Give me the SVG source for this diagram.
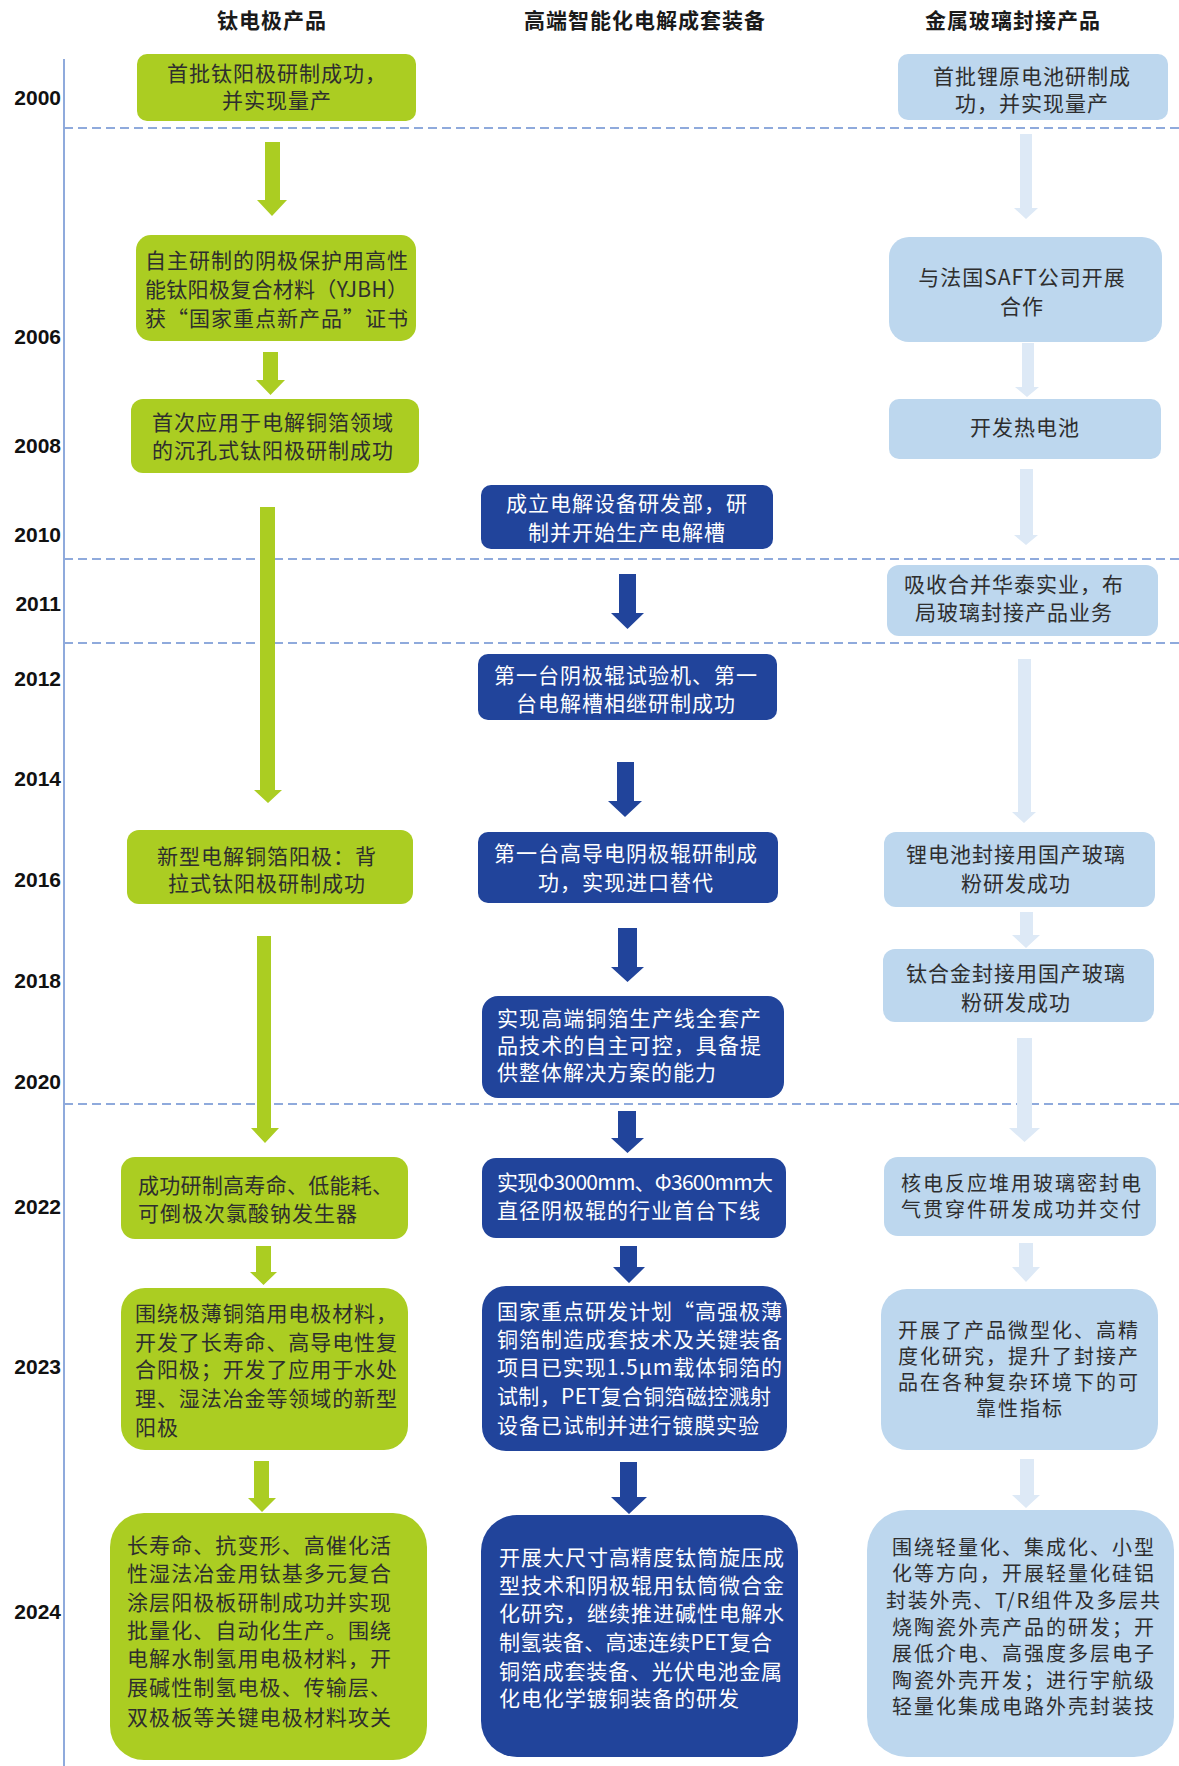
<svg xmlns="http://www.w3.org/2000/svg" width="1179" height="1766" viewBox="0 0 1179 1766">
<style>
  .bg{fill:#ffffff}
  .axis{stroke:#8faadc;stroke-width:2;fill:none}
  .dash{stroke:#8faadc;stroke-width:2;stroke-dasharray:9 5;fill:none}
  .hd{font-family:"Noto Sans CJK SC","Noto Sans CJK JP",sans-serif;font-weight:bold;font-size:21px;letter-spacing:1px;text-anchor:middle;fill:#1a1a1a}
  .yr{font-family:"Liberation Sans",Arial,sans-serif;font-weight:bold;font-size:21px;text-anchor:end;fill:#111}
  .g{fill:#abcd22}
  .b{fill:#21449b}
  .l{fill:#bdd7ee}
  .ga{fill:#abcd22}
  .ba{fill:#21449b}
  .la{fill:#dde9f6}
  .t{font-family:"Noto Sans CJK SC","Noto Sans CJK JP",sans-serif;font-size:21px;letter-spacing:1px}
  .s{font-size:20px;letter-spacing:2px}
  .dk{fill:#2e2e2e}
  .wt{fill:#ffffff}
  .c{text-anchor:middle}
</style>

<rect class="bg" x="0" y="0" width="1179" height="1766"/>

<!-- timeline axis and period separators -->
<g id="grid">
  <line class="axis" x1="64" y1="59" x2="64" y2="1766"/>
  <line class="dash" x1="64" y1="128" x2="1179" y2="128"/>
  <line class="dash" x1="64" y1="559" x2="1179" y2="559"/>
  <line class="dash" x1="64" y1="643" x2="1179" y2="643"/>
  <line class="dash" x1="64" y1="1104" x2="1179" y2="1104"/>
</g>

<!-- column titles -->
<g id="headers">
  <text class="hd" x="272" y="28">钛电极产品</text>
  <text class="hd" x="645" y="28">高端智能化电解成套装备</text>
  <text class="hd" x="1013" y="28">金属玻璃封接产品</text>
</g>

<!-- year labels -->
<g id="years">
  <text class="yr" x="61" y="105">2000</text>
  <text class="yr" x="61" y="344">2006</text>
  <text class="yr" x="61" y="453">2008</text>
  <text class="yr" x="61" y="542">2010</text>
  <text class="yr" x="61" y="611">2011</text>
  <text class="yr" x="61" y="686">2012</text>
  <text class="yr" x="61" y="786">2014</text>
  <text class="yr" x="61" y="887">2016</text>
  <text class="yr" x="61" y="988">2018</text>
  <text class="yr" x="61" y="1089">2020</text>
  <text class="yr" x="61" y="1214">2022</text>
  <text class="yr" x="61" y="1374">2023</text>
  <text class="yr" x="61" y="1619">2024</text>
</g>

<!-- block arrows between milestones -->
<g id="connectors">
  <!-- titanium electrode column -->
  <polygon class="ga" points="265,142 280,142 280,200 287,200 272,216 257,200 265,200"/>
  <polygon class="ga" points="263,352 278,352 278,380 285,380 270.5,395 256,380 263,380"/>
  <polygon class="ga" points="260,507 275,507 275,790 282,790 268,803 254,790 260,790"/>
  <polygon class="ga" points="257,936 271,936 271,1128 279,1128 265,1143 251,1128 257,1128"/>
  <polygon class="ga" points="256,1246 271,1246 271,1272 277,1272 263.5,1285 250,1272 256,1272"/>
  <polygon class="ga" points="254,1461 269,1461 269,1498 276,1498 262,1512 248,1498 254,1498"/>
  <!-- electrolysis equipment column -->
  <polygon class="ba" points="619,574 636,574 636,613 644,613 627.5,629 611,613 619,613"/>
  <polygon class="ba" points="617,762 634,762 634,801 642,801 625,817 608,801 617,801"/>
  <polygon class="ba" points="618,928 637,928 637,967 644,967 627.5,982 611,967 618,967"/>
  <polygon class="ba" points="618,1111 636,1111 636,1138 644,1138 627.5,1153 611,1138 618,1138"/>
  <polygon class="ba" points="620,1246 637,1246 637,1267 645,1267 629,1283 613,1267 620,1267"/>
  <polygon class="ba" points="620,1462 637,1462 637,1497 647,1497 629,1514 611,1497 620,1497"/>
  <!-- glass-to-metal sealing column -->
  <polygon class="la" points="1020,134 1032,134 1032,208 1038,208 1026,219 1014,208 1020,208"/>
  <polygon class="la" points="1022,343 1034,343 1034,387 1039,387 1027,397 1015,387 1022,387"/>
  <polygon class="la" points="1020,469 1033,469 1033,535 1038,535 1026,545 1014,535 1020,535"/>
  <polygon class="la" points="1018,659 1031,659 1031,812 1036,812 1024,823 1012,812 1018,812"/>
  <polygon class="la" points="1020,912 1033,912 1033,935 1040,935 1026,948 1012,935 1020,935"/>
  <polygon class="la" points="1017,1038 1032,1038 1032,1128 1040,1128 1024.5,1142 1009,1128 1017,1128"/>
  <polygon class="la" points="1019,1243 1033,1243 1033,1267 1040,1267 1026,1282 1012,1267 1019,1267"/>
  <polygon class="la" points="1020,1459 1034,1459 1034,1495 1040,1495 1026,1508 1012,1495 1020,1495"/>
</g>

<!-- titanium electrode products -->
<g id="ti-2000">
  <rect class="g" x="137" y="54" width="279" height="67" rx="10"/>
  <text class="t dk c" x="277" y="81">首批钛阳极研制成功，</text>
  <text class="t dk c" x="277" y="108">并实现量产</text>
</g>
<g id="ti-2006">
  <rect class="g" x="136" y="235" width="280" height="106" rx="15"/>
  <text class="t dk" x="145" y="268" textLength="264" lengthAdjust="spacing">自主研制的阴极保护用高性</text>
  <text class="t dk" x="145" y="297" textLength="264" lengthAdjust="spacing">能钛阳极复合材料（YJBH）</text>
  <text class="t dk" x="145" y="326" textLength="264" lengthAdjust="spacing">获“国家重点新产品”证书</text>
</g>
<g id="ti-2008">
  <rect class="g" x="131" y="399" width="288" height="74" rx="12"/>
  <text class="t dk" x="152" y="430" textLength="242" lengthAdjust="spacing">首次应用于电解铜箔领域</text>
  <text class="t dk" x="152" y="458" textLength="242" lengthAdjust="spacing">的沉孔式钛阳极研制成功</text>
</g>
<g id="ti-2016">
  <rect class="g" x="127" y="830" width="286" height="74" rx="12"/>
  <text class="t dk c" x="267" y="864">新型电解铜箔阳极：背</text>
  <text class="t dk c" x="267" y="891">拉式钛阳极研制成功</text>
</g>
<g id="ti-2022">
  <rect class="g" x="121" y="1157" width="287" height="82" rx="14"/>
  <text class="t dk" x="138" y="1193" textLength="256" lengthAdjust="spacing">成功研制高寿命、低能耗、</text>
  <text class="t dk" x="138" y="1221">可倒极次氯酸钠发生器</text>
</g>
<g id="ti-2023">
  <rect class="g" x="121" y="1288" width="287" height="162" rx="24"/>
  <text class="t dk" x="135" y="1321" textLength="263" lengthAdjust="spacing">围绕极薄铜箔用电极材料，</text>
  <text class="t dk" x="135" y="1350" textLength="263" lengthAdjust="spacing">开发了长寿命、高导电性复</text>
  <text class="t dk" x="135" y="1377" textLength="263" lengthAdjust="spacing">合阳极；开发了应用于水处</text>
  <text class="t dk" x="135" y="1406" textLength="263" lengthAdjust="spacing">理、湿法冶金等领域的新型</text>
  <text class="t dk" x="135" y="1435">阳极</text>
</g>
<g id="ti-2024">
  <rect class="g" x="110" y="1513" width="317" height="247" rx="34"/>
  <text class="t dk" x="127" y="1553" textLength="265" lengthAdjust="spacing">长寿命、抗变形、高催化活</text>
  <text class="t dk" x="127" y="1581" textLength="265" lengthAdjust="spacing">性湿法冶金用钛基多元复合</text>
  <text class="t dk" x="127" y="1610" textLength="265" lengthAdjust="spacing">涂层阳极板研制成功并实现</text>
  <text class="t dk" x="127" y="1638" textLength="265" lengthAdjust="spacing">批量化、自动化生产。围绕</text>
  <text class="t dk" x="127" y="1666" textLength="265" lengthAdjust="spacing">电解水制氢用电极材料，开</text>
  <text class="t dk" x="127" y="1695" textLength="265" lengthAdjust="spacing">展碱性制氢电极、传输层、</text>
  <text class="t dk" x="127" y="1725" textLength="265" lengthAdjust="spacing">双极板等关键电极材料攻关</text>
</g>

<!-- high-end electrolysis equipment -->
<g id="eq-2010">
  <rect class="b" x="481" y="485" width="292" height="64" rx="10"/>
  <text class="t wt c" x="627" y="511">成立电解设备研发部，研</text>
  <text class="t wt c" x="627" y="540">制并开始生产电解槽</text>
</g>
<g id="eq-2012">
  <rect class="b" x="478" y="654" width="299" height="66" rx="10"/>
  <text class="t wt c" x="626" y="683">第一台阴极辊试验机、第一</text>
  <text class="t wt c" x="626" y="711">台电解槽相继研制成功</text>
</g>
<g id="eq-2016">
  <rect class="b" x="478" y="832" width="300" height="71" rx="10"/>
  <text class="t wt c" x="626" y="861">第一台高导电阴极辊研制成</text>
  <text class="t wt c" x="626" y="890">功，实现进口替代</text>
</g>
<g id="eq-2020">
  <rect class="b" x="482" y="996" width="302" height="102" rx="16"/>
  <text class="t wt" x="497" y="1026" textLength="265" lengthAdjust="spacing">实现高端铜箔生产线全套产</text>
  <text class="t wt" x="497" y="1053" textLength="265" lengthAdjust="spacing">品技术的自主可控，具备提</text>
  <text class="t wt" x="497" y="1080">供整体解决方案的能力</text>
</g>
<g id="eq-2022">
  <rect class="b" x="482" y="1158" width="304" height="80" rx="14"/>
  <text class="t wt" x="497" y="1190" textLength="277" lengthAdjust="spacing">实现Φ3000mm、Φ3600mm大</text>
  <text class="t wt" x="497" y="1218" textLength="264" lengthAdjust="spacing">直径阴极辊的行业首台下线</text>
</g>
<g id="eq-2023">
  <rect class="b" x="482" y="1286" width="305" height="165" rx="24"/>
  <text class="t wt" x="497" y="1319" textLength="286" lengthAdjust="spacing">国家重点研发计划“高强极薄</text>
  <text class="t wt" x="497" y="1347" textLength="286" lengthAdjust="spacing">铜箔制造成套技术及关键装备</text>
  <text class="t wt" x="497" y="1375" textLength="286" lengthAdjust="spacing">项目已实现1.5μm载体铜箔的</text>
  <text class="t wt" x="497" y="1404" textLength="275" lengthAdjust="spacing">试制，PET复合铜箔磁控溅射</text>
  <text class="t wt" x="497" y="1433" textLength="263" lengthAdjust="spacing">设备已试制并进行镀膜实验</text>
</g>
<g id="eq-2024">
  <rect class="b" x="481" y="1515" width="317" height="242" rx="36"/>
  <text class="t wt" x="499" y="1565" textLength="286" lengthAdjust="spacing">开展大尺寸高精度钛筒旋压成</text>
  <text class="t wt" x="499" y="1593" textLength="286" lengthAdjust="spacing">型技术和阴极辊用钛筒微合金</text>
  <text class="t wt" x="499" y="1621" textLength="286" lengthAdjust="spacing">化研究，继续推进碱性电解水</text>
  <text class="t wt" x="499" y="1650" textLength="274" lengthAdjust="spacing">制氢装备、高速连续PET复合</text>
  <text class="t wt" x="499" y="1679" textLength="284" lengthAdjust="spacing">铜箔成套装备、光伏电池金属</text>
  <text class="t wt" x="499" y="1706" textLength="241" lengthAdjust="spacing">化电化学镀铜装备的研发</text>
</g>

<!-- glass-to-metal sealing products -->
<g id="gl-2000">
  <rect class="l" x="898" y="54" width="270" height="66" rx="10"/>
  <text class="t dk c" x="1032" y="84">首批锂原电池研制成</text>
  <text class="t dk c" x="1032" y="111">功，并实现量产</text>
</g>
<g id="gl-2006">
  <rect class="l" x="889" y="237" width="273" height="105" rx="20"/>
  <text class="t dk c" x="1022" y="285">与法国SAFT公司开展</text>
  <text class="t dk c" x="1022" y="314">合作</text>
</g>
<g id="gl-2008">
  <rect class="l" x="889" y="399" width="272" height="60" rx="10"/>
  <text class="t dk c" x="1025" y="435">开发热电池</text>
</g>
<g id="gl-2011">
  <rect class="l" x="887" y="565" width="271" height="71" rx="12"/>
  <text class="t dk c" x="1014" y="592">吸收合并华泰实业，布</text>
  <text class="t dk c" x="1014" y="620">局玻璃封接产品业务</text>
</g>
<g id="gl-2016">
  <rect class="l" x="884" y="832" width="271" height="75" rx="12"/>
  <text class="t dk c" x="1016" y="862">锂电池封接用国产玻璃</text>
  <text class="t dk c" x="1016" y="891">粉研发成功</text>
</g>
<g id="gl-2018">
  <rect class="l" x="883" y="949" width="271" height="73" rx="12"/>
  <text class="t dk c" x="1016" y="981">钛合金封接用国产玻璃</text>
  <text class="t dk c" x="1016" y="1010">粉研发成功</text>
</g>
<g id="gl-2022">
  <rect class="l" x="884" y="1157" width="272" height="79" rx="14"/>
  <text class="t s dk" x="901" y="1191" textLength="242" lengthAdjust="spacing">核电反应堆用玻璃密封电</text>
  <text class="t s dk" x="901" y="1217" textLength="242" lengthAdjust="spacing">气贯穿件研发成功并交付</text>
</g>
<g id="gl-2023">
  <rect class="l" x="881" y="1289" width="277" height="161" rx="26"/>
  <text class="t s dk" x="898" y="1338" textLength="242" lengthAdjust="spacing">开展了产品微型化、高精</text>
  <text class="t s dk" x="898" y="1364" textLength="242" lengthAdjust="spacing">度化研究，提升了封接产</text>
  <text class="t s dk" x="898" y="1390" textLength="242" lengthAdjust="spacing">品在各种复杂环境下的可</text>
  <text class="t s dk c" x="1020" y="1416">靠性指标</text>
</g>
<g id="gl-2024">
  <rect class="l" x="867" y="1510" width="307" height="247" rx="40"/>
  <text class="t s dk" x="892" y="1555" textLength="264" lengthAdjust="spacing">围绕轻量化、集成化、小型</text>
  <text class="t s dk" x="892" y="1581" textLength="264" lengthAdjust="spacing">化等方向，开展轻量化硅铝</text>
  <text class="t s dk" x="886" y="1608" textLength="276" lengthAdjust="spacing">封装外壳、T/R组件及多层共</text>
  <text class="t s dk" x="892" y="1635" textLength="264" lengthAdjust="spacing">烧陶瓷外壳产品的研发；开</text>
  <text class="t s dk" x="892" y="1661" textLength="264" lengthAdjust="spacing">展低介电、高强度多层电子</text>
  <text class="t s dk" x="892" y="1688" textLength="264" lengthAdjust="spacing">陶瓷外壳开发；进行宇航级</text>
  <text class="t s dk" x="892" y="1714" textLength="264" lengthAdjust="spacing">轻量化集成电路外壳封装技</text>
</g>
</svg>
